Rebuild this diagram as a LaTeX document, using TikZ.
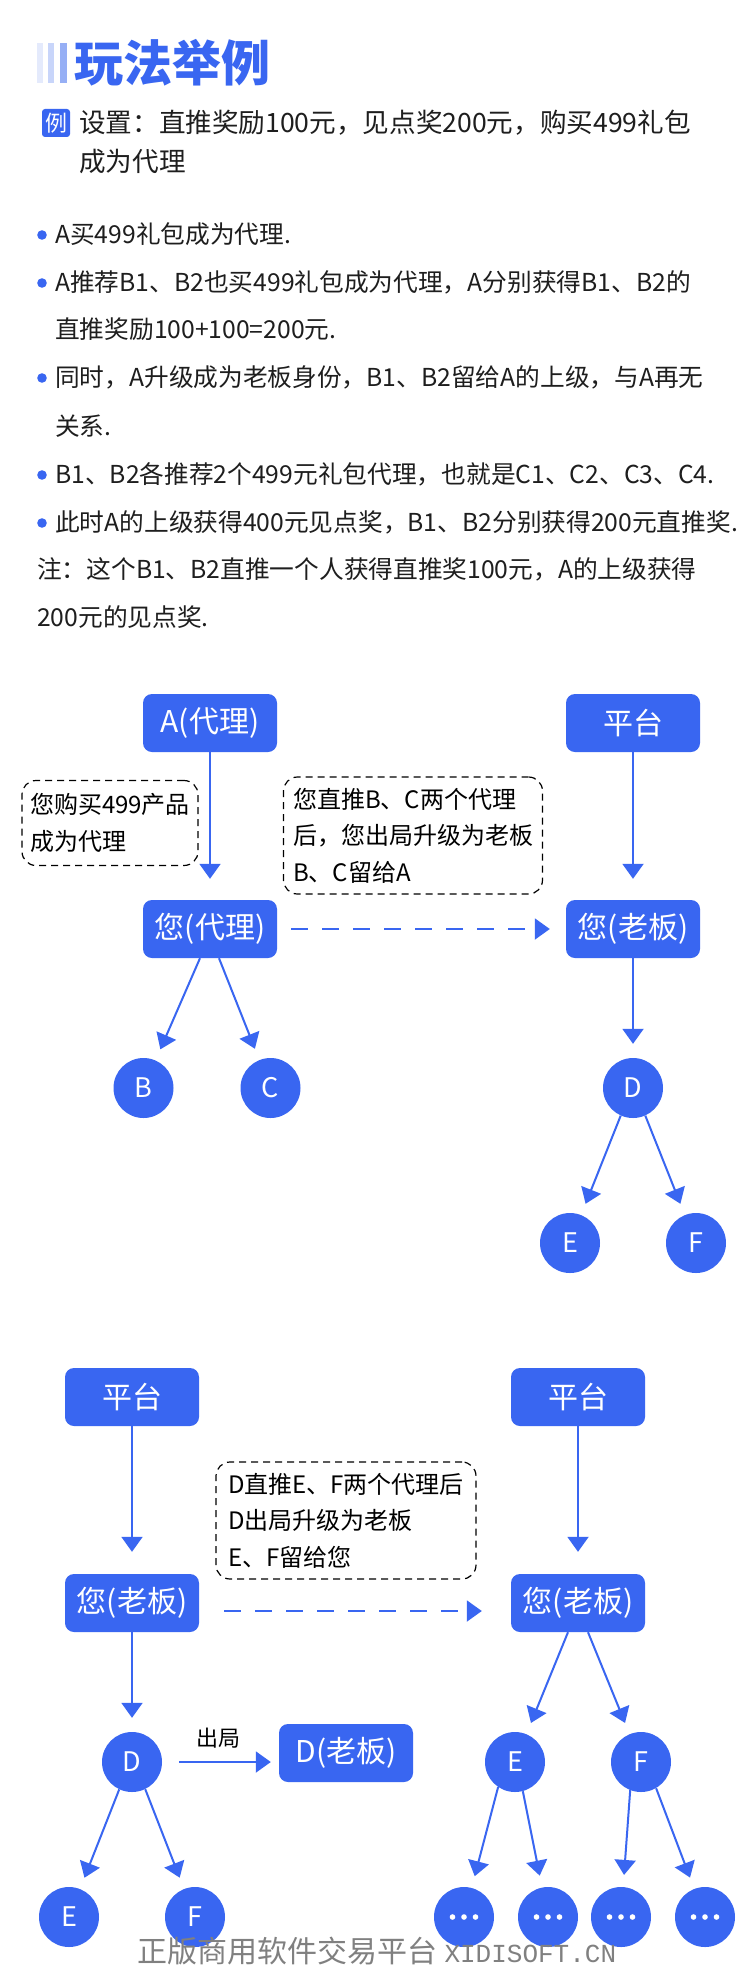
\documentclass[tikz,border=0pt]{standalone}
\usepackage{fontspec}
\setmainfont{Noto Sans CJK SC}
\newfontfamily\markfont{Liberation Mono}
\usepackage{tikz}
\usetikzlibrary{positioning,calc,arrows.meta}
\definecolor{planblue}{RGB}{57,102,241}
\definecolor{barlight}{RGB}{228,234,252}
\definecolor{barmid}{RGB}{200,213,250}
\definecolor{bardark}{RGB}{150,175,245}
\definecolor{inkgray}{RGB}{30,30,30}
\definecolor{markgray}{RGB}{128,128,128}
\newcommand{\pxfont}[2]{\fontsize{#1pt}{#2pt}\selectfont}

\tikzset{
  rolebox/.style={fill=planblue, rounded corners=9pt, minimum width=134pt, minimum height=58pt,
    inner sep=0pt, text=white, font=\pxfont{30}{36}},
  person/.style={circle, fill=planblue, minimum size=60pt, inner sep=0pt, text=white, font=\pxfont{27}{32}},
  morenode/.style={person, path picture={
    \foreach \k in {-1,0,1} \fill[white] ([xshift=\k*11.5pt]path picture bounding box.center) circle (2.8pt);}},
  memo/.style={draw=black, dash pattern=on 7pt off 5pt, line width=1.2pt, rounded corners=14pt,
    inner xsep=7pt, inner ysep=0pt, align=left, text=black, font=\pxfont{24}{36.5}},
  flow/.style={draw=planblue, line width=2pt, -{Triangle[width=21pt,length=15pt]}},
  flowdash/.style={flow, dash pattern=on 17pt off 14pt},
  bodytext/.style={anchor=west, inner sep=0pt, text=inkgray, font=\pxfont{24.7}{30},
    text height=21pt, text depth=4pt},
}

\begin{document}
\begin{tikzpicture}[x=1pt, y=-1pt]
  \fill[white] (0,0) rectangle (750,1969);
  \useasboundingbox (0,0) rectangle (750,1969);

  % heading
  \fill[barlight] (37,43) rectangle (43,83);
  \fill[barmid] (48,43) rectangle (54,83);
  \fill[bardark] (60,43) rectangle (67,83);
  \node[anchor=west, inner sep=0pt, text=planblue, font=\pxfont{49}{49}\bfseries] (title) at (74,63) {玩法举例};
  \node[fill=planblue, rounded corners=3pt, minimum size=28pt, inner sep=0pt, text=white,
        font=\pxfont{22}{22}] (exmark) at (56,123) {例};
  \node[bodytext, font=\pxfont{26.6}{30}, text height=23pt] (setup) at (79,123) {设置：直推奖励100元，见点奖200元，购买499礼包};
  \node[bodytext, font=\pxfont{26.6}{30}, text height=23pt] (setupb) at (79,162) {成为代理};

  % bullet points
  \foreach \y/\txt in {235/A买499礼包成为代理.,
      283/A推荐B1、B2也买499礼包成为代理，A分别获得B1、B2的,
      378/同时，A升级成为老板身份，B1、B2留给A的上级，与A再无,
      475/B1、B2各推荐2个499元礼包代理，也就是C1、C2、C3、C4.,
      523/此时A的上级获得400元见点奖，B1、B2分别获得200元直推奖.}{
    \fill[planblue] (42,\y) circle (4.8pt);
    \node[bodytext] (item\y) at (55,\y) {\txt};
  }
  \foreach \x/\y/\txt in {55/330/直推奖励100+100=200元., 55/427/关系.,
      37/570/注：这个B1、B2直推一个人获得直推奖100元，A的上级获得,
      37/618/200元的见点奖.}{
    \node[bodytext] (line\y) at (\x,\y) {\txt};
  }

  % first example
  \node[rolebox] (agentA) at (210,723) {A(代理)};
  \node[rolebox] (plat1) at (633,723) {平台};
  \node[rolebox] (youAgent) at (210,929) {您(代理)};
  \node[rolebox] (youBoss1) at (633,929) {您(老板)};
  \node[memo, minimum width=176pt, minimum height=85pt] (memo1) at (110,823) {您购买499产品\\成为代理};
  \node[memo, minimum width=259pt, minimum height=117pt] (memo2) at (413,835.5) {您直推B、C两个代理\\后，您出局升级为老板\\B、C留给A};
  \node[person] (nodeB) at (143.5,1088) {B};
  \node[person] (nodeC) at (270.5,1088) {C};
  \node[person] (nodeD1) at (633,1088) {D};
  \node[person] (nodeE1) at (570,1243) {E};
  \node[person] (nodeF1) at (696,1243) {F};

  \draw[flow, shorten >=21pt] (agentA) -- (youAgent);
  \draw[flow, shorten >=21pt] (plat1) -- (youBoss1);
  \draw[flowdash, shorten <=14pt, shorten >=16pt] (youAgent.east) -- (youBoss1.west);
  \draw[flow, shorten >=12pt] ([xshift=-10pt]youAgent.south) -- (nodeB);
  \draw[flow, shorten >=12pt] ([xshift=9pt]youAgent.south) -- (nodeC);
  \draw[flow, shorten >=14pt] (youBoss1) -- (nodeD1);
  \draw[flow, shorten >=12pt] (nodeD1.-114) -- (nodeE1);
  \draw[flow, shorten >=12pt] (nodeD1.-66) -- (nodeF1);

  % second example
  \node[rolebox] (plat2) at (132,1397) {平台};
  \node[rolebox] (plat3) at (578,1397) {平台};
  \node[rolebox] (youBoss2) at (132,1603) {您(老板)};
  \node[rolebox] (youBoss3) at (578,1603) {您(老板)};
  \node[memo, minimum width=260pt, minimum height=117pt] (memo3) at (346,1520.5) {D直推E、F两个代理后\\D出局升级为老板\\E、F留给您};
  \node[person] (nodeD2) at (132,1762) {D};
  \node[rolebox] (bossD) at (346,1753) {D(老板)};
  \node[font=\pxfont{22}{22}, inner sep=0pt] (leave) at (218,1738) {出局};
  \node[person] (nodeE2) at (69,1917) {E};
  \node[person] (nodeF2) at (195,1917) {F};
  \node[person] (nodeE3) at (515,1762) {E};
  \node[person] (nodeF3) at (641,1762) {F};
  \node[morenode] (more1) at (464,1917) {};
  \node[morenode] (more2) at (548,1917) {};
  \node[morenode] (more3) at (621,1917) {};
  \node[morenode] (more4) at (705,1917) {};

  \draw[flow, shorten >=22pt] (plat2) -- (youBoss2);
  \draw[flow, shorten >=22pt] (plat3) -- (youBoss3);
  \draw[flowdash, shorten <=25pt, shorten >=29pt] ([yshift=-8pt]youBoss2.east) -- ([yshift=-8pt]youBoss3.west);
  \draw[flow, shorten >=14pt] (youBoss2) -- (nodeD2);
  \draw[flow, shorten <=17pt, shorten >=8pt] (nodeD2) -- (nodeD2 -| bossD.west);
  \draw[flow, shorten >=12pt] (nodeD2.-115) -- (nodeE2);
  \draw[flow, shorten >=12pt] (nodeD2.-64) -- (nodeF2);
  \draw[flow, shorten >=12pt] ([xshift=-10pt]youBoss3.south) -- (nodeE3);
  \draw[flow, shorten >=12pt] ([xshift=10pt]youBoss3.south) -- (nodeF3);
  \draw[flow, shorten >=12pt] (nodeE3.-124) -- (more1);
  \draw[flow, shorten >=12pt] (nodeE3.-75) -- (more2);
  \draw[flow, shorten >=12pt] (nodeF3.-111) -- (more3);
  \draw[flow, shorten >=12pt] (nodeF3.-60) -- (more4);

  \node[text=markgray, font=\pxfont{30}{30}, inner sep=0pt] (mark) at (377,1951) {正版商用软件交易平台 {\markfont\pxfont{26}{30}XIDISOFT.CN}};
\end{tikzpicture}
\end{document}
